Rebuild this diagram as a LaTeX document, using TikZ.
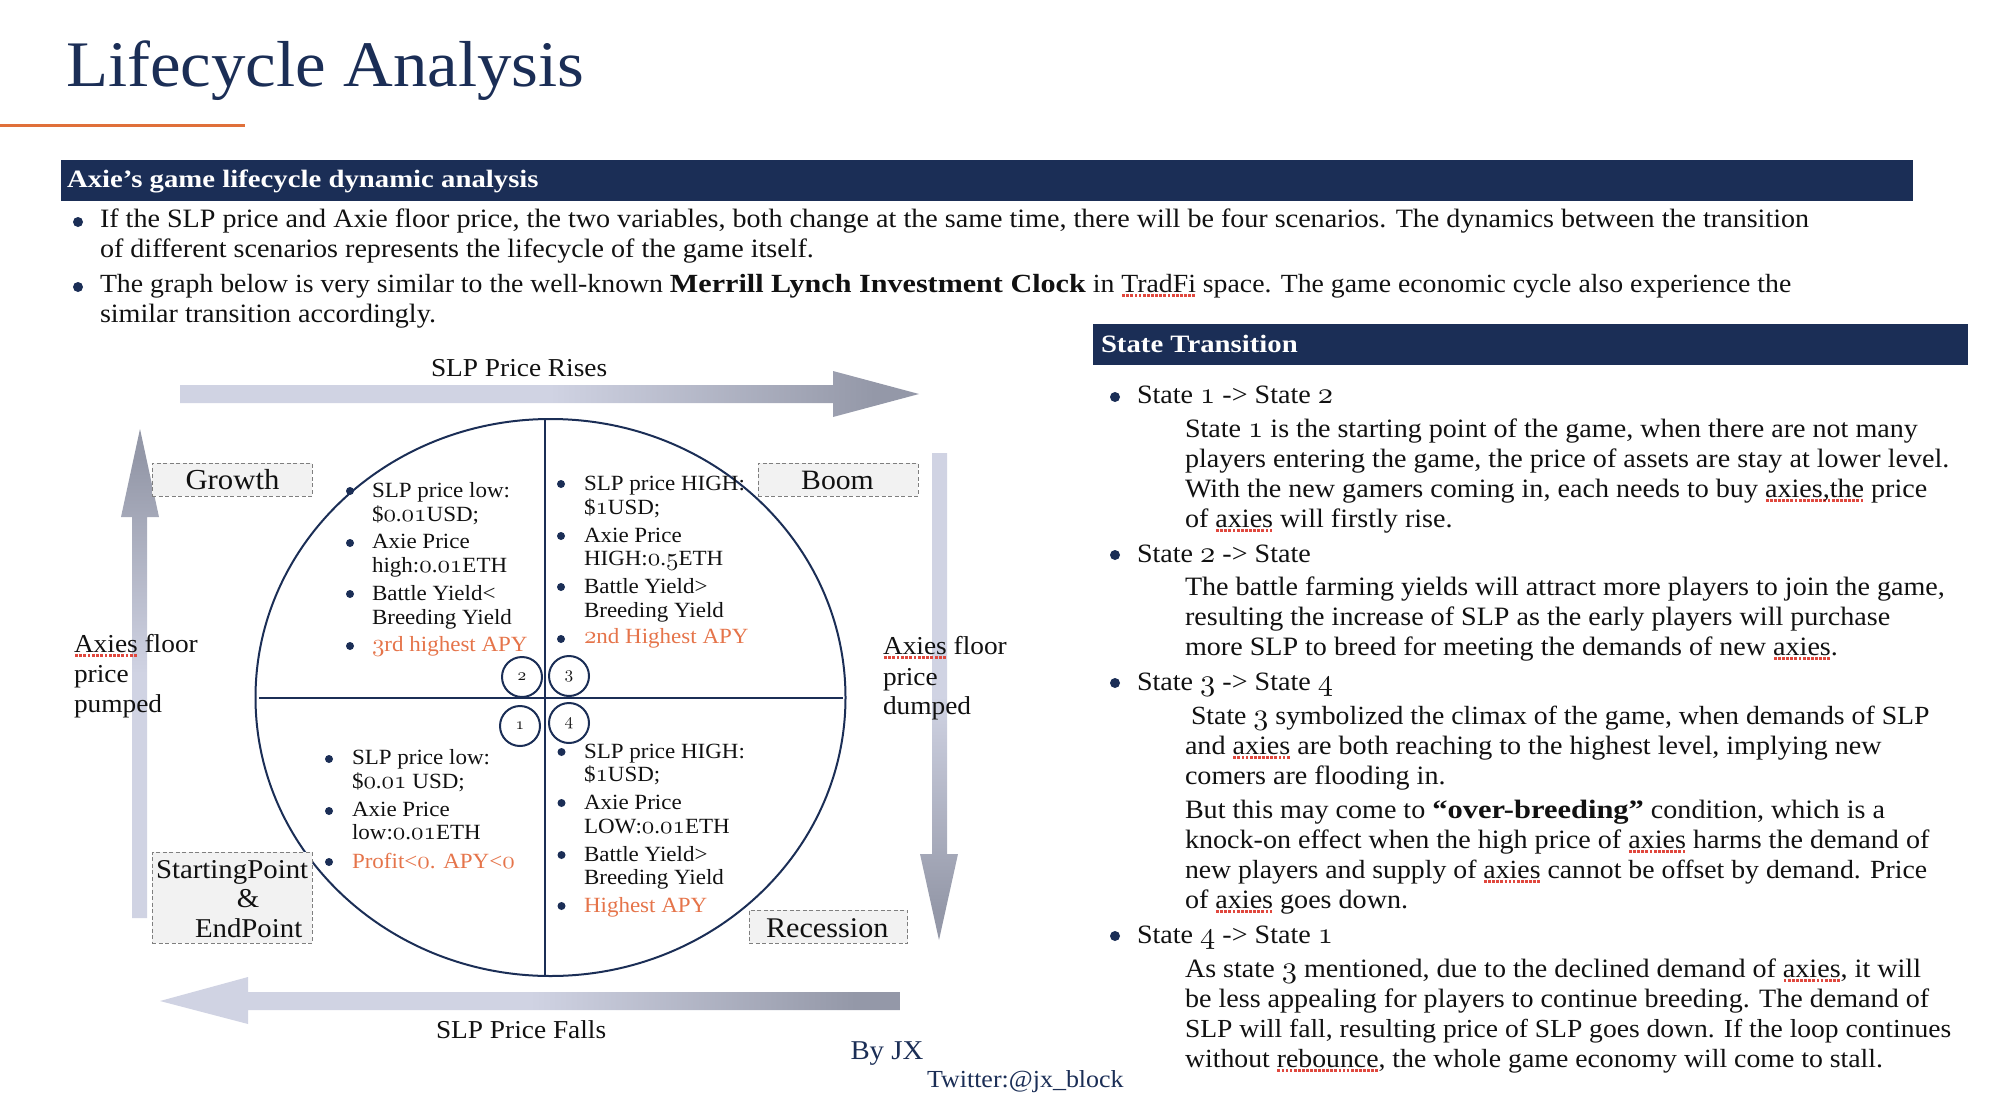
\documentclass[tikz,border=0pt]{standalone}
\usepackage{fontspec}
\setmainfont[FakeStretch=1.06,BoldFeatures={FakeStretch=1.15}]{Liberation Serif}
\DeclareFontFamily{OML}{jxos}{}
\DeclareFontShape{OML}{jxos}{m}{n}{<-> s*[1.15] cmmi10}{}
\newcommand\os[1]{{\usefont{OML}{jxos}{m}{n}#1}}
\definecolor{navy}{HTML}{1B2E56}
\definecolor{orangeline}{HTML}{E0703A}
\definecolor{orangetext}{HTML}{E5744A}
\definecolor{inkblack}{HTML}{111111}
\definecolor{sqred}{HTML}{E0483E}
\definecolor{arrlight}{HTML}{D0D3E3}
\definecolor{arrdark}{HTML}{9498A8}
\definecolor{boxfill}{HTML}{F2F2F2}
\definecolor{boxline}{HTML}{7F7F7F}
\pgfdeclarehorizontalshading{arrowgrad}{100bp}{color(0bp)=(arrlight); color(50bp)=(arrlight); color(72bp)=(arrdark); color(100bp)=(arrdark)}
\newcommand\sq[1]{\leavevmode\setbox0\hbox{#1}\rlap{\raisebox{-4.5pt}{\color{sqred}\hbox to \wd0{\xleaders\hbox to 4pt{\hss\rule{2.8pt}{2.8pt}\hss}\hfill}}}\box0 }
\newcount\tcnt
\newcommand\Tx[4][]{\global\advance\tcnt by 1 \node[txt,#1,name=t\the\tcnt] at (#2,#3) {#4};}
\newcommand\Bu[3][4]{\fill[navy] (#2,#3) circle (#1);}
\tikzset{
  txt/.style={anchor=base west,inner sep=0pt,outer sep=0pt,text=inkblack},
  body/.style={font=\fontsize{26.5}{30}\selectfont},
  bodyn/.style={font=\fontsize{26.2}{30}\selectfont},
  small/.style={font=\fontsize{21.7}{24}\selectfont},
  label/.style={font=\fontsize{25.8}{30}\selectfont},
  head/.style={font=\bfseries\fontsize{25}{30}\selectfont,text=white},
  bar/.style={fill=navy,draw=none},
  tag/.style={fill=boxfill,draw=boxline,line width=1pt,dash pattern=on 4pt off 2.5pt},
  numc/.style={circle,draw=navy,line width=2pt,minimum size=40pt,inner sep=0pt,text=inkblack,font=\fontsize{15}{16}\selectfont},
  flow/.style={shading=arrowgrad},
  rule/.style={draw=navy,line width=2pt}
}
\begin{document}
\begin{tikzpicture}[x=1pt,y=-1pt]
\useasboundingbox (0,0) rectangle (1992,1108);
% title
\Tx[font=\fontsize{65}{76}\selectfont,text=navy]{66}{86}{Lifecycle Analysis}
\fill[orangeline] (0,124) rectangle (245,127);
% top bar
\fill[bar] (61,160) rectangle (1913,201);
\Tx[head]{67}{187}{Axie’s game lifecycle dynamic analysis}
\Bu[5]{78}{222}
\Tx[body]{100}{227}{If the SLP price and Axie floor price, the two variables, both change at the same time, there will be four scenarios. The dynamics between the transition}
\Tx[body]{100}{257}{of different scenarios represents the lifecycle of the game itself.}
\Bu[5]{78}{287}
\Tx[bodyn]{100}{292}{The graph below is very similar to the well-known \textbf{Merrill Lynch Investment Clock} in \sq{TradFi} space. The game economic cycle also experience the}
\Tx[body]{100}{322}{similar transition accordingly.}
% block arrows
\shade[flow] (180,385) -- (833,385) -- (833,371) -- (919,394) -- (833,417) -- (833,403) -- (180,403) -- cycle;
\shade[flow,shading angle=-90] (932,453) -- (947,453) -- (947,854) -- (958,854) -- (939,940) -- (920,854) -- (932,854) -- cycle;
\shade[flow] (900,992) -- (248,992) -- (248,977) -- (160,1001) -- (248,1024) -- (248,1010) -- (900,1010) -- cycle;
\shade[flow,shading angle=90] (132,918) -- (132,517) -- (121,517) -- (140,429) -- (159,517) -- (147,517) -- (147,918) -- cycle;
% clock
\draw[rule] (550.5,697.5) ellipse [x radius=295,y radius=278.5];
\draw[rule] (545,419) -- (545,976);
\draw[rule] (259,698) -- (843,698);
\node[numc] (c2) at (522,677) {\os{2}};
\node[numc] (c3) at (569,676) {\os{3}};
\node[numc] (c1) at (520,726) {\os{1}};
\node[numc] (c4) at (569,723) {\os{4}};
% tags
\node[tag,minimum width=160pt,minimum height=33pt,inner sep=0pt] (growth) at (232,479.5) {};
\node[tag,minimum width=160pt,minimum height=33pt,inner sep=0pt] (boom) at (838,479.5) {};
\node[tag,minimum width=160pt,minimum height=91pt,inner sep=0pt] (startend) at (232,897.5) {};
\node[tag,minimum width=158.5pt,minimum height=33pt,inner sep=0pt] (recession) at (828.25,926.5) {};
\Tx[font=\fontsize{29}{30}\selectfont,anchor=base]{232.5}{489}{Growth}
\Tx[font=\fontsize{28}{30}\selectfont,anchor=base]{837.5}{489}{Boom}
\Tx[font=\fontsize{27.2}{30}\selectfont]{156}{878}{StartingPoint}
\Tx[font=\fontsize{27.2}{30}\selectfont,anchor=base]{248}{907}{\&}
\Tx[font=\fontsize{27.2}{30}\selectfont]{195}{937}{EndPoint}
\Tx[font=\fontsize{28.5}{30}\selectfont]{766}{937}{Recession}
% axis labels
\Tx[label]{431}{376}{SLP Price Rises}
\Tx[label]{436}{1038}{SLP Price Falls}
\Tx[label]{74}{652}{\sq{Axies} floor}
\Tx[label]{74}{682}{price}
\Tx[label]{74}{712}{pumped}
\Tx[label]{883}{654}{\sq{Axies} floor}
\Tx[label]{883}{685}{price}
\Tx[label]{883}{714}{dumped}
% quadrant 2
\Bu{350}{491}\Bu{350}{543}\Bu{350}{594}\Bu{350}{646}
\Tx[small]{372}{497}{SLP price low:}
\Tx[small]{372}{521}{\$\os{0}.\os{01}USD;}
\Tx[small]{372}{548}{Axie Price}
\Tx[small]{372}{572}{high:\os{0}.\os{01}ETH}
\Tx[small]{372}{600}{Battle Yield<}
\Tx[small]{372}{624}{Breeding Yield}
\Tx[small,text=orangetext]{372}{651}{\os{3}rd highest APY}
% quadrant 3
\Bu{561}{484}\Bu{561}{536}\Bu{561}{587}\Bu{561}{639}
\Tx[small]{584}{490}{SLP price HIGH:}
\Tx[small]{584}{514}{\$\os{1}USD;}
\Tx[small]{584}{542}{Axie Price}
\Tx[small]{584}{565}{HIGH:\os{0}.\os{5}ETH}
\Tx[small]{584}{593}{Battle Yield>}
\Tx[small]{584}{617}{Breeding Yield}
\Tx[small,text=orangetext]{584}{643}{\os{2}nd Highest APY}
% quadrant 1
\Bu{329}{759}\Bu{329}{811}\Bu{329}{862}
\Tx[small]{352}{764}{SLP price low:}
\Tx[small]{352}{788}{\$\os{0}.\os{01} USD;}
\Tx[small]{352}{816}{Axie Price}
\Tx[small]{352}{839}{low:\os{0}.\os{01}ETH}
\Tx[small,text=orangetext]{352}{868}{Profit<\os{0}. APY<\os{0}}
% quadrant 4
\Bu{561.5}{752}\Bu{561.5}{803}\Bu{561.5}{855}\Bu{561.5}{906}
\Tx[small]{584}{758}{SLP price HIGH:}
\Tx[small]{584}{781}{\$\os{1}USD;}
\Tx[small]{584}{809}{Axie Price}
\Tx[small]{584}{833}{LOW:\os{0}.\os{01}ETH}
\Tx[small]{584}{861}{Battle Yield>}
\Tx[small]{584}{884}{Breeding Yield}
\Tx[small,text=orangetext]{584}{912}{Highest APY}
% signature
\Tx[font=\fontsize{27.2}{30}\selectfont,text=navy]{850.5}{1059}{By JX}
\Tx[font=\fontsize{24.5}{28}\selectfont,text=navy]{927}{1087}{Twitter:@jx\_block}
% right column
\fill[bar] (1093,324) rectangle (1968,365);
\Tx[head]{1101}{352}{State Transition}
\Bu[5]{1115}{397}
\Tx[body]{1137}{403}{State \os{1} -> State \os{2}}
\Tx[body]{1185}{437}{State \os{1} is the starting point of the game, when there are not many}
\Tx[body]{1185}{467}{players entering the game, the price of assets are stay at lower level.}
\Tx[body]{1185}{497}{With the new gamers coming in, each needs to buy \sq{axies,the} price}
\Tx[body]{1185}{527}{of \sq{axies} will firstly rise.}
\Bu[5]{1115}{555}
\Tx[body]{1137}{562}{State \os{2} -> State}
\Tx[body]{1185}{595}{The battle farming yields will attract more players to join the game,}
\Tx[body]{1185}{625}{resulting the increase of SLP as the early players will purchase}
\Tx[body]{1185}{655}{more SLP to breed for meeting the demands of new \sq{axies}.}
\Bu[5]{1115}{683}
\Tx[body]{1137}{690}{State \os{3} -> State \os{4}}
\Tx[bodyn]{1191}{724}{State \os{3} symbolized the climax of the game, when demands of SLP}
\Tx[body]{1185}{754}{and \sq{axies} are both reaching to the highest level, implying new}
\Tx[body]{1185}{784}{comers are flooding in.}
\Tx[body]{1185}{818}{But this may come to \textbf{“over-breeding”} condition, which is a}
\Tx[body]{1185}{848}{knock-on effect when the high price of \sq{axies} harms the demand of}
\Tx[bodyn]{1185}{878}{new players and supply of \sq{axies} cannot be offset by demand. Price}
\Tx[body]{1185}{908}{of \sq{axies} goes down.}
\Bu[5]{1115}{936}
\Tx[body]{1137}{943}{State \os{4} -> State \os{1}}
\Tx[body]{1185}{977}{As state \os{3} mentioned, due to the declined demand of \sq{axies}, it will}
\Tx[body]{1185}{1007}{be less appealing for players to continue breeding. The demand of}
\Tx[font=\fontsize{26}{30}\selectfont]{1185}{1037}{SLP will fall, resulting price of SLP goes down. If the loop continues}
\Tx[bodyn]{1185}{1067}{without \sq{rebounce}, the whole game economy will come to stall.}
\end{tikzpicture}
\end{document}
